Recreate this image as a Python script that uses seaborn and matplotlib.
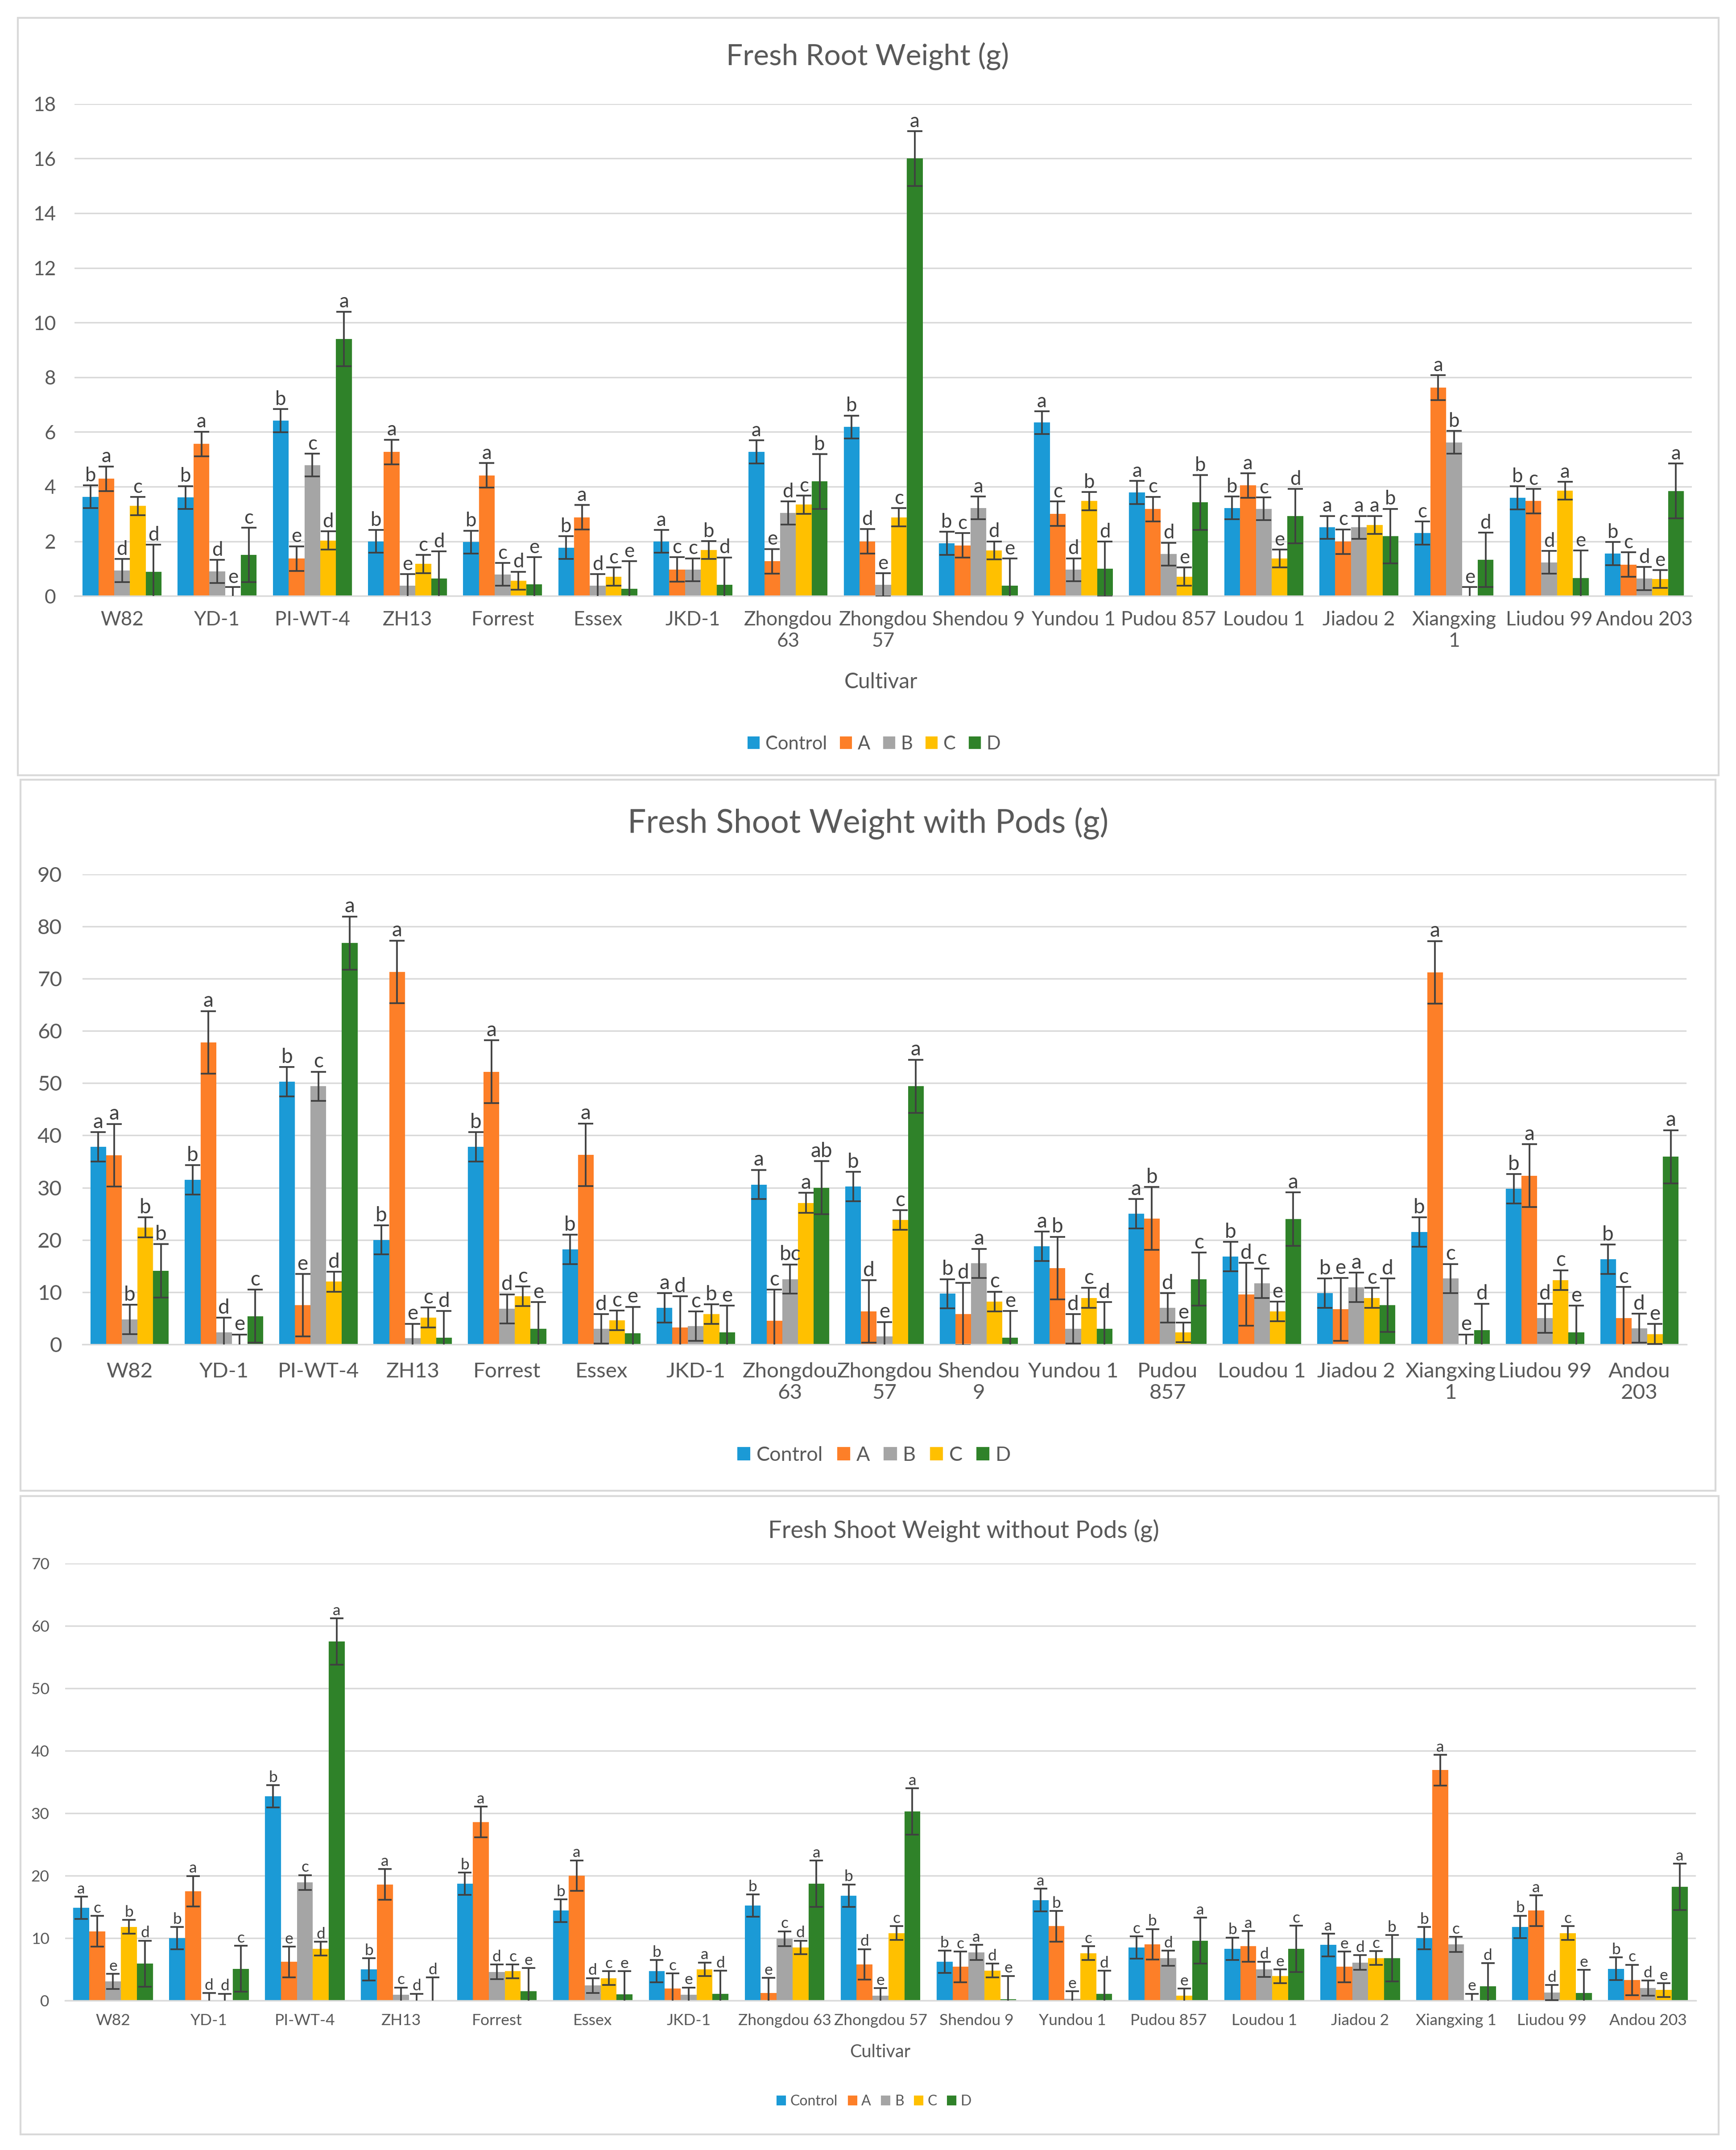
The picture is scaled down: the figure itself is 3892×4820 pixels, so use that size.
import matplotlib
matplotlib.use("Agg")
import matplotlib.pyplot as plt
from matplotlib.patches import Rectangle
import seaborn as sns
import pandas as pd

sns.set_style("white")
plt.rcParams['font.family'] = ['Lato', 'DejaVu Sans']

cultivars = ['W82', 'YD-1', 'PI-WT-4', 'ZH13', 'Forrest', 'Essex', 'JKD-1',
             'Zhongdou 63', 'Zhongdou 57', 'Shendou 9', 'Yundou 1', 'Pudou 857',
             'Loudou 1', 'Jiadou 2', 'Xiangxing 1', 'Liudou 99', 'Andou 203']
treatments = ['Control', 'A', 'B', 'C', 'D']
colors = ['#1B9AD6', '#FD7F28', '#A5A5A5', '#FFC000', '#2F8229']

# tick labels as wrapped in each chart
root_ticks = ['W82', 'YD-1', 'PI-WT-4', 'ZH13', 'Forrest', 'Essex', 'JKD-1',
              'Zhongdou\n63', 'Zhongdou\n57', 'Shendou 9', 'Yundou 1', 'Pudou 857',
              'Loudou 1', 'Jiadou 2', 'Xiangxing\n1', 'Liudou 99', 'Andou 203']
pods_ticks = ['W82', 'YD-1', 'PI-WT-4', 'ZH13', 'Forrest', 'Essex', 'JKD-1',
              'Zhongdou\n63', 'Zhongdou\n57', 'Shendou\n9', 'Yundou 1', 'Pudou\n857',
              'Loudou 1', 'Jiadou 2', 'Xiangxing\n1', 'Liudou 99', 'Andou\n203']
nopods_ticks = cultivars

# ---- Fresh root weight (g)
root_vals = {
    'Control': [3.63, 3.6, 6.41, 2.0, 1.97, 1.77, 2.0, 5.27, 6.18, 1.93, 6.34, 3.79, 3.22, 2.51, 2.3, 3.59, 1.55],
    'A': [4.29, 5.56, 1.37, 5.27, 4.41, 2.88, 0.97, 1.27, 2.0, 1.85, 3.01, 3.18, 4.04, 1.99, 7.62, 3.47, 1.15],
    'B': [0.93, 0.9, 4.79, 0.38, 0.79, 0.38, 0.96, 3.04, 0.41, 3.22, 0.96, 1.53, 3.19, 2.51, 5.62, 1.23, 0.64],
    'C': [3.29, 0.0, 2.03, 1.17, 0.56, 0.71, 1.68, 3.34, 2.88, 1.67, 3.47, 0.71, 1.37, 2.6, 0.0, 3.85, 0.62],
    'D': [0.88, 1.5, 9.4, 0.63, 0.42, 0.27, 0.41, 4.19, 16.0, 0.37, 0.99, 3.42, 2.92, 2.19, 1.32, 0.66, 3.84],
}
root_err = {'Control': 0.42, 'A': 0.45, 'B': 0.42, 'C': 0.33, 'D': 1.0}
root_sig = {
    'Control': list('bbbbbbaabbaabacbb'),
    'A': list('aaeaaacedcccacacc'),
    'B': list('ddcecdcdeaddcabdd'),
    'C': list('cedcdcbccdbeeaeae'),
    'D': list('dcadeedbaedbdbdea'),
}

# ---- Fresh shoot weight with pods (g)
pods_vals = {
    'Control': [37.8, 31.5, 50.3, 20.0, 37.8, 18.2, 7.0, 30.6, 30.2, 9.7, 18.8, 25.0, 16.8, 9.8, 21.5, 29.8, 16.3],
    'A': [36.2, 57.8, 7.5, 71.3, 52.2, 36.3, 3.2, 4.5, 6.3, 5.8, 14.6, 24.1, 9.6, 6.7, 71.2, 32.3, 5.0],
    'B': [4.8, 2.3, 49.4, 1.15, 6.8, 3.0, 3.5, 12.5, 1.5, 15.5, 3.0, 7.0, 11.7, 10.9, 12.6, 5.0, 3.1],
    'C': [22.4, 0.0, 12.0, 5.15, 9.2, 4.6, 5.8, 27.1, 23.8, 8.2, 8.9, 2.3, 6.3, 8.9, 0.0, 12.3, 2.0],
    'D': [14.1, 5.4, 76.8, 1.3, 3.0, 2.1, 2.3, 30.0, 49.4, 1.3, 3.0, 12.5, 24.0, 7.5, 2.7, 2.3, 35.9],
}
pods_err = {'Control': 2.8, 'A': 6.0, 'B': 2.8, 'C': 1.9, 'D': 5.1}
pods_sig = {
    'Control': ['a', 'b', 'b', 'b', 'b', 'b', 'a', 'a', 'b', 'b', 'a', 'a', 'b', 'b', 'b', 'b', 'b'],
    'A': ['a', 'a', 'e', 'a', 'a', 'a', 'd', 'c', 'd', 'd', 'b', 'b', 'd', 'e', 'a', 'a', 'c'],
    'B': ['b', 'd', 'c', 'e', 'd', 'd', 'c', 'bc', 'e', 'a', 'd', 'd', 'c', 'a', 'c', 'd', 'd'],
    'C': ['b', 'e', 'd', 'c', 'c', 'c', 'b', 'a', 'c', 'c', 'c', 'e', 'e', 'c', 'e', 'c', 'e'],
    'D': ['b', 'c', 'a', 'd', 'e', 'e', 'e', 'ab', 'a', 'e', 'd', 'c', 'a', 'd', 'd', 'e', 'a'],
}

# ---- Fresh shoot weight without pods (g)
nopods_vals = {
    'Control': [14.84, 10.0, 32.7, 5.0, 18.7, 14.4, 4.7, 15.2, 16.8, 6.2, 16.1, 8.5, 8.3, 8.9, 10.0, 11.8, 5.1],
    'A': [11.1, 17.5, 6.2, 18.6, 28.6, 20.0, 1.9, 1.2, 5.8, 5.4, 11.9, 9.0, 8.7, 5.4, 36.9, 14.4, 3.3],
    'B': [3.06, 0.0, 18.9, 0.9, 4.6, 2.4, 0.9, 9.9, 0.8, 7.7, 0.3, 6.8, 5.0, 6.1, 9.0, 1.3, 2.0],
    'C': [11.8, 0.0, 8.3, 0.0, 4.7, 3.6, 5.0, 8.5, 10.8, 4.8, 7.6, 0.8, 3.9, 6.8, 0.0, 10.8, 1.7],
    'D': [5.9, 5.1, 57.5, 0.0, 1.5, 1.0, 1.1, 18.7, 30.3, 0.25, 1.1, 9.6, 8.3, 6.8, 2.3, 1.2, 18.2],
}
nopods_err = {'Control': 1.8, 'A': 2.45, 'B': 1.2, 'C': 1.1, 'D': 3.7}
nopods_sig = {
    'Control': list('abbbbbbbbbacbabbb'),
    'A': list('caeaaacedcbbaeaac'),
    'B': list('edccddeceaedddcdd'),
    'C': list('bdddccadcdceecece'),
    'D': list('dcadeedaaedacbdea'),
}

TXT = '#595959'
GRID = '#D9D9D9'


def make_df(vals):
    rows = []
    for t in treatments:
        for c, v in zip(cultivars, vals[t]):
            rows.append({'Cultivar': c, 'Treatment': t, 'Value': v})
    return pd.DataFrame(rows)


def draw_panel(ax, vals, err, sig, ticks, ymax, ystep, fs, lab_fs, xpad, ypad, capsize):
    df = make_df(vals)
    sns.barplot(data=df, x='Cultivar', y='Value', hue='Treatment', order=cultivars,
                hue_order=treatments, palette=colors, width=0.83, gap=0,
                errorbar=None, saturation=1, linewidth=0, ax=ax)
    handles, labels = ax.get_legend_handles_labels()
    if ax.get_legend() is not None:
        ax.get_legend().remove()
    for t, cont in zip(treatments, ax.containers):
        xs = [r.get_x() + r.get_width() / 2 for r in cont]
        hs = [r.get_height() for r in cont]
        ax.errorbar(xs, hs, yerr=err[t], fmt='none', ecolor='#404040',
                    elinewidth=0.9, capsize=capsize, capthick=0.9, zorder=4)
        for x, h, s in zip(xs, hs, sig[t]):
            ax.annotate(s, (x, h + err[t]), xytext=(0, 0.3), textcoords='offset points',
                        ha='center', va='bottom', fontsize=lab_fs, color='#404040')
    ax.set_ylim(0, ymax)
    ax.set_xlim(-0.5, len(cultivars) - 0.5)
    ax.set_yticks(range(0, ymax + 1, ystep))
    ax.set_xticks(range(len(cultivars)))
    ax.set_xticklabels(ticks, linespacing=1.2)
    ax.set_xlabel('')
    ax.set_ylabel('')
    ax.tick_params(axis='both', length=0, labelsize=fs, colors=TXT)
    ax.tick_params(axis='x', pad=xpad)
    ax.tick_params(axis='y', pad=ypad)
    ax.yaxis.grid(True, color=GRID, linewidth=0.8)
    ax.set_axisbelow(True)
    for side in ['top', 'right', 'left']:
        ax.spines[side].set_visible(False)
    ax.spines['bottom'].set_color(GRID)
    ax.spines['bottom'].set_linewidth(0.8)
    return handles, labels


fig = plt.figure(figsize=(3892 / 300, 4820 / 300), dpi=300)

# chart area borders
for (x0, y0, w, h) in [(0.0103, 0.6394, 0.9797, 0.3523),
                       (0.0118, 0.3066, 0.9764, 0.3307),
                       (0.0118, 0.0073, 0.9782, 0.2969)]:
    fig.add_artist(Rectangle((x0, y0), w, h, transform=fig.transFigure,
                             fill=False, edgecolor=GRID, linewidth=1.0))

ax1 = fig.add_axes([0.0429, 0.7228, 0.9317, 0.2289])
ax2 = fig.add_axes([0.0475, 0.3747, 0.9240, 0.2187])
ax3 = fig.add_axes([0.0375, 0.0695, 0.9394, 0.2033])

h1, l1 = draw_panel(ax1, root_vals, root_err, root_sig, root_ticks, 18, 2,
                    fs=10.6, lab_fs=10.5, xpad=8, ypad=10, capsize=4)
h2, l2 = draw_panel(ax2, pods_vals, pods_err, pods_sig, pods_ticks, 90, 10,
                    fs=11.4, lab_fs=11, xpad=9.5, ypad=11, capsize=4)
h3, l3 = draw_panel(ax3, nopods_vals, nopods_err, nopods_sig, nopods_ticks, 70, 10,
                    fs=8.5, lab_fs=8.5, xpad=7, ypad=8.5, capsize=3.5)

# titles
fig.text(0.4997, 0.9739, 'Fresh Root Weight (g)', ha='center', va='center', fontsize=15.8, color=TXT)
fig.text(0.5000, 0.6170, 'Fresh Shoot Weight with Pods (g)', ha='center', va='center', fontsize=17.6, color=TXT)
fig.text(0.5550, 0.2882, 'Fresh Shoot Weight without Pods (g)', ha='center', va='center', fontsize=13, color=TXT)

# axis titles
fig.text(0.5075, 0.6828, 'Cultivar', ha='center', va='center', fontsize=11.5, color=TXT)
fig.text(0.5070, 0.0456, 'Cultivar', ha='center', va='center', fontsize=9.5, color=TXT)

# legends
for hs, ls, y, fsz in [(h1, l1, 0.6540, 10), (h2, l2, 0.3232, 10.8), (h3, l3, 0.0226, 7.7)]:
    fig.legend(hs, ls, loc='center', bbox_to_anchor=(0.5035, y), ncol=5, frameon=False,
               fontsize=fsz, handlelength=0.65, handleheight=0.65, handletextpad=0.3,
               columnspacing=0.7, labelcolor=TXT)

fig.savefig('out.png', dpi=300)
